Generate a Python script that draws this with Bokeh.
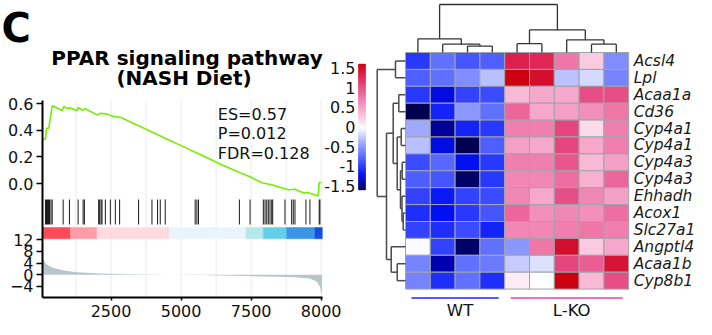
import numpy as np
from bokeh.plotting import figure
from bokeh.models import (Range1d, FixedTicker, LinearColorMapper, ColumnDataSource,
                          NumeralTickFormatter, LinearAxis)
from bokeh.transform import transform
from bokeh.core.properties import value
from bokeh.embed import file_html
from bokeh.resources import INLINE

FONT = "DejaVu Sans"

# ---------------- GSEA data ----------------
panel_letter = "C"
title_lines = ["PPAR signaling pathway", "(NASH Diet)"]
stats_text = ["ES=0.57", "P=0.012", "FDR=0.128"]

es_rank = [55, 160, 196, 278, 313, 399, 755, 812, 969, 1004, 1289, 1325, 1489, 1560,
           2001, 2119, 2333, 2593, 2831, 3483, 3960, 4434, 5000, 5680, 6392, 6631,
           7104, 7461, 7877, 8234, 8647, 8825, 9064, 9242, 9420, 9502, 9598, 9893,
           9929, 10014]
es_score = [0.332, 0.332, 0.415, 0.415, 0.465, 0.583, 0.548, 0.578, 0.560, 0.570,
            0.545, 0.570, 0.548, 0.563, 0.515, 0.527, 0.522, 0.503, 0.497, 0.433,
            0.386, 0.340, 0.284, 0.217, 0.147, 0.124, 0.080, 0.050, 0.005, -0.010,
            -0.035, -0.047, -0.043, -0.060, -0.073, -0.065, -0.073, -0.093, 0.008,
            0.008]

hit_rank = [160, 196, 231, 267, 303, 356, 399, 791, 1015, 1325, 1503, 1549, 2058,
            2094, 2144, 2179, 2297, 2475, 2653, 2806, 3483, 3960, 4160, 4256, 4434,
            5502, 5563, 5620, 7080, 7461, 7935, 7995, 8056, 8113, 8173, 8234, 8269,
            8707, 8946, 9003, 9064, 9455, 9598, 9929, 9954]

metric_rank = [55, 160, 278, 456, 812, 1289, 2119, 3305, 4494, 5680, 6866, 8055,
               9003, 9598, 9836, 9954, 10030]
metric_value = [5.7, 4.0, 3.1, 2.3, 1.5, 0.9, 0.45, 0.2, 0.0, -0.1, -0.35, -0.6,
                -0.8, -1.3, -2.3, -4.0, -6.8]

band_edges = [55, 1051, 2001, 4587, 7318, 7935, 8768, 9776, 10040]
band_colors = ["#ff4a58", "#ff9ca6", "#ffdbe0", "#eaf4fc", "#b4e8ea", "#64d0e8",
               "#3c94e8", "#1450e0"]

x_tick_pos = [2500, 5000, 7500, 10000]
x_tick_lab = ["2500", "5000", "7500", "8000"]
grid_pos = [1250, 2500, 3750, 5000, 6250, 7500, 8750, 10000]
es_ticks = [0.0, 0.2, 0.4, 0.6]
metric_ticks = [-4, 0, 4, 8, 12]

# ---------------- heatmap data ----------------
genes = ["Acsl4", "Lpl", "Acaa1a", "Cd36", "Cyp4a1", "Cyp4a1", "Cyp4a3", "Cyp4a3",
         "Ehhadh", "Acox1", "Slc27a1", "Angptl4", "Acaa1b", "Cyp8b1"]
samples = ["WT1", "WT2", "WT3", "WT4", "KO1", "KO2", "KO3", "KO4", "KO5"]
groups = ["WT", "L-KO"]
group_sizes = [4, 5]
group_colors = ["#5b5bea", "#f06ec4"]

z_WT1 = [-1.0, -0.8, -1.0, -1.6, -0.4, -0.3, -0.9, -0.8, -0.95, -1.05, -0.95, -0.02, -0.6, -0.6]
z_WT2 = [-0.7, -0.7, -1.25, -1.1, -1.45, -1.25, -0.75, -0.85, -1.15, -1.2, -1.05, -0.95, -1.4, -1.05]
z_WT3 = [-0.85, -0.55, -0.95, -0.5, -1.1, -1.6, -1.2, -1.55, -0.95, -1.0, -0.9, -1.55, -0.7, -0.7]
z_WT4 = [-0.8, -0.3, -0.9, -0.7, -1.0, -0.8, -1.0, -1.0, -0.9, -0.85, -1.1, -0.7, -0.65, -1.05]
z_KO1 = [1.3, 1.6, 0.35, 0.85, 0.7, 0.5, 0.7, 0.65, 0.65, 0.85, 0.65, -0.5, -0.25, 0.08]
z_KO2 = [1.25, 1.45, 0.45, 0.45, 0.7, 0.45, 0.7, 0.65, 0.45, 0.6, 0.65, 0.75, -0.15, 0.0]
z_KO3 = [0.75, -0.28, 0.45, 0.5, 1.05, 1.05, 0.95, 0.8, 1.0, 0.65, 0.7, 1.45, 1.05, 1.6]
z_KO4 = [0.25, -0.18, 1.0, 0.6, 0.15, 0.45, 0.35, 0.4, 0.65, 0.6, 0.75, 0.25, 0.9, 0.35]
z_KO5 = [-0.55, -0.6, 1.0, 0.75, 0.7, 0.7, 0.5, 0.85, 0.5, 0.8, 0.7, 0.45, 1.4, 1.0]
z_columns = [z_WT1, z_WT2, z_WT3, z_WT4, z_KO1, z_KO2, z_KO3, z_KO4, z_KO5]

# dendrograms: (child a, child b, height); leaves 0..n-1, new nodes n, n+1, ...
col_merges = [(2, 3, 6.7), (1, 9, 8.7), (0, 10, 14.3), (4, 5, 9.3), (7, 8, 8.7),
              (6, 13, 13.3), (12, 14, 23.7), (11, 15, 50.3)]
row_merges = [(0, 1, 10.0), (2, 3, 6.7), (4, 5, 4.3), (6, 7, 3.3), (9, 10, 2.3),
              (8, 18, 3.5), (17, 19, 5.0), (16, 20, 8.3), (15, 21, 12.3),
              (12, 13, 8.3), (11, 23, 14.3), (22, 24, 19.0), (14, 25, 28.3)]

cbar_low, cbar_high = -1.6, 1.6
cbar_ticks = [1.5, 1, 0.5, 0, -0.5, -1, -1.5]
cbar_labels = ["1.5", "1", "0.5", "0", "-0.5", "-1", "-1.5"]

# ---------------- layout (canvas pixels) ----------------
FIG_W, FIG_H = 696, 319
FRAME_L, FRAME_R = 42, 322            # GSEA plot area
ES_TOP_PX, SPLIT_PX, PLOT_BOT_PX = 100, 225, 297
ES0_PX, ES_PX_PER = 183.0, 133.3
M0_PX, M_PX_PER = 274.3, 2.917
HIT_TOP_PX, HIT_BOT_PX = 199, 224
BAND_TOP_PX, BAND_BOT_PX = 227, 238.3
CB_L, CB_R, CB_T, CB_B = 358, 365, 64, 189
HM_L, COL_PX = 405.0, 24.8
HM_TOP, ROW_PX = 52.0, 16.9
DEND_TOP = 4.0
GROUP_LINE_PX, GROUP_TEXT_PX = 297.5, 309.5


def lin(p1, v1, p2, v2):
    return lambda q: v1 + (q - p1) * (v2 - v1) / (p2 - p1)


def xrange_from(f):
    return Range1d(f(0), f(FIG_W))


def yrange_from(f):
    return Range1d(f(FIG_H), f(0))


n_rows, n_cols = len(genes), len(samples)
f_col = lin(HM_L, 0, HM_L + n_cols * COL_PX, n_cols)
f_row = lin(HM_TOP, 0, HM_TOP + n_rows * ROW_PX, n_rows)
f_rank = lin(40.5, 0, 320.7, 10000)
f_es = lin(ES0_PX, 0.0, ES0_PX - ES_PX_PER, 1.0)
f_met = lin(M0_PX, 0.0, M0_PX - M_PX_PER, 1.0)
f_cb = lin(CB_B, cbar_low, CB_T, cbar_high)
f_cbx = lin(CB_L, 0.0, CB_R, 1.0)
f_px = lin(0, 0, 1, 1)

p = figure(width=FIG_W, height=FIG_H, output_backend="svg",
           toolbar_location=None, x_range=xrange_from(f_col), y_range=yrange_from(f_row),
           x_axis_type=None, y_axis_type=None, min_border=0)
p.outline_line_color = None
p.background_fill_color = "white"
p.border_fill_color = "white"
p.extra_x_ranges = {"rank": xrange_from(f_rank), "cbx": xrange_from(f_cbx), "px": xrange_from(f_px)}
p.extra_y_ranges = {"es": yrange_from(f_es), "met": yrange_from(f_met), "cb": yrange_from(f_cb),
                    "py": yrange_from(f_px)}


def style_axis(ax, size="16px"):
    ax.axis_line_width = 2
    ax.axis_line_color = "black"
    ax.major_tick_line_width = 1.5
    ax.major_tick_out = 6
    ax.major_tick_in = 0
    ax.minor_tick_out = 0
    ax.minor_tick_in = 0
    ax.major_label_text_font = FONT
    ax.major_label_text_font_size = size
    ax.major_label_text_color = "#111111"
    ax.major_label_standoff = 3


# ---------------- titles (positions are text centres) ----------------
p.text(x=[1], y=[27], text=[panel_letter], text_font=value(FONT), text_font_size="40px",
       text_font_style="bold", text_align="left", text_baseline="middle",
       text_color="black", x_range_name="px", y_range_name="py")
p.text(x=[186.5, 183.5], y=[57.0, 77.0], text=title_lines, text_font=value(FONT),
       text_font_size="20px", text_font_style="bold", text_align="center",
       text_baseline="middle", text_color="black", x_range_name="px", y_range_name="py")

# ---------------- GSEA panels ----------------
p.segment(x0=grid_pos, x1=grid_pos, y0=[ES_TOP_PX] * len(grid_pos),
          y1=[PLOT_BOT_PX] * len(grid_pos), line_color="#ebebeb", line_width=1,
          x_range_name="rank", y_range_name="py")
p.varea(x=metric_rank, y1=[0] * len(metric_rank), y2=metric_value, fill_color="#b6c6c9",
        x_range_name="rank", y_range_name="met")
p.quad(left=band_edges[:-1], right=band_edges[1:],
       bottom=[f_met(BAND_BOT_PX)] * len(band_colors), top=[f_met(BAND_TOP_PX)] * len(band_colors),
       fill_color=band_colors, line_color=band_colors, line_width=0.5,
       x_range_name="rank", y_range_name="met")
p.segment(x0=hit_rank, x1=hit_rank, y0=[f_es(HIT_TOP_PX)] * len(hit_rank),
          y1=[f_es(HIT_BOT_PX)] * len(hit_rank), line_color="#1a1a1a", line_width=1,
          x_range_name="rank", y_range_name="es")
p.line(es_rank, es_score, line_color="#76ee00", line_width=1.6,
       x_range_name="rank", y_range_name="es")
p.text(x=[217.3] * 3, y=[113.5, 132.8, 152.5], text=stats_text, text_font=value(FONT),
       text_font_size="16px", text_align="left", text_baseline="middle",
       text_color="#111111", x_range_name="px", y_range_name="py")

ax_es = LinearAxis(x_range_name="rank", y_range_name="es", fixed_location=f_rank(FRAME_L),
                   bounds=(f_es(PLOT_BOT_PX), f_es(ES_TOP_PX)),
                   ticker=FixedTicker(ticks=es_ticks), formatter=NumeralTickFormatter(format="0.0"))
style_axis(ax_es)
p.add_layout(ax_es, "left")

ax_met = LinearAxis(x_range_name="rank", y_range_name="met", fixed_location=f_rank(FRAME_L),
                    bounds=(f_met(PLOT_BOT_PX), f_met(SPLIT_PX)),
                    ticker=FixedTicker(ticks=metric_ticks))
style_axis(ax_met)
ax_met.axis_line_color = None
p.add_layout(ax_met, "left")

ax_rank = LinearAxis(x_range_name="rank", y_range_name="met", fixed_location=f_met(PLOT_BOT_PX),
                     bounds=(f_rank(FRAME_L), f_rank(FRAME_R)),
                     ticker=FixedTicker(ticks=x_tick_pos))
style_axis(ax_rank)
ax_rank.major_tick_out = 3
ax_rank.major_label_standoff = 4
ax_rank.major_label_overrides = {t: l for t, l in zip(x_tick_pos, x_tick_lab)}
p.add_layout(ax_rank, "below")

# ---------------- colour map ----------------
cmap_stops = [(-1.6, "#000050"), (-1.4, "#0000b0"), (-1.2, "#0010f0"), (-1.0, "#2838ff"),
              (-0.7, "#6070ff"), (-0.4, "#a0a8ff"), (-0.15, "#dce0ff"), (0.0, "#ffffff"),
              (0.15, "#fbdcea"), (0.4, "#f6b2d2"), (0.7, "#f080b0"), (1.0, "#e85088"),
              (1.3, "#de2050"), (1.6, "#cc0010")]


def make_palette(stops, n=256):
    vs = [s[0] for s in stops]
    cs = [tuple(int(s[1][i:i + 2], 16) for i in (1, 3, 5)) for s in stops]
    out = []
    for t in np.linspace(vs[0], vs[-1], n):
        j = max(0, min(len(vs) - 2, int(np.searchsorted(vs, t) - 1)))
        f = min(1.0, max(0.0, (t - vs[j]) / (vs[j + 1] - vs[j])))
        c = [round(cs[j][k] + (cs[j + 1][k] - cs[j][k]) * f) for k in range(3)]
        out.append("#%02x%02x%02x" % tuple(c))
    return out


mapper = LinearColorMapper(palette=make_palette(cmap_stops), low=cbar_low, high=cbar_high)

# ---------------- colour bar ----------------
cb_vals = np.linspace(cbar_low, cbar_high, 161)
cb_step = cb_vals[1] - cb_vals[0]
cb_src = ColumnDataSource(dict(v=cb_vals, b=cb_vals - cb_step / 2, t=cb_vals + cb_step / 2))
p.quad(left=0, right=1, bottom="b", top="t", source=cb_src,
       fill_color=transform("v", mapper), line_color=transform("v", mapper), line_width=0.5,
       x_range_name="cbx", y_range_name="cb")
ax_cb = LinearAxis(x_range_name="cbx", y_range_name="cb", fixed_location=0.0,
                   bounds=(cbar_low, cbar_high), ticker=FixedTicker(ticks=cbar_ticks))
style_axis(ax_cb)
ax_cb.axis_line_color = None
ax_cb.major_tick_out = 0
ax_cb.major_label_standoff = 3
ax_cb.major_label_overrides = {t: l for t, l in zip(cbar_ticks, cbar_labels)}
p.add_layout(ax_cb, "left")

# ---------------- heatmap ----------------
xs, ys, vs = [], [], []
for ci, colvals in enumerate(z_columns):
    for ri, v in enumerate(colvals):
        xs.append(ci + 0.5)
        ys.append(ri + 0.5)
        vs.append(v)
hm_src = ColumnDataSource(dict(x=xs, y=ys, v=vs))
p.rect(x="x", y="y", width=1, height=1, fill_color=transform("v", mapper),
       line_color="#a0a4aa", line_width=1, source=hm_src)


def dendro_segments(merges, n):
    pos = {i: i + 0.5 for i in range(n)}
    hgt = {i: 0.0 for i in range(n)}
    segs = []
    for k, (a, b, h) in enumerate(merges):
        segs.append((pos[a], hgt[a], pos[a], h))
        segs.append((pos[b], hgt[b], pos[b], h))
        segs.append((pos[a], h, pos[b], h))
        pos[n + k] = (pos[a] + pos[b]) / 2
        hgt[n + k] = h
    return segs


col_scale = (HM_TOP - DEND_TOP) / max(m[2] for m in col_merges) / ROW_PX
cs = dendro_segments(col_merges, n_cols)
p.segment(x0=[s[0] for s in cs], y0=[-s[1] * col_scale for s in cs],
          x1=[s[2] for s in cs], y1=[-s[3] * col_scale for s in cs],
          line_color="#333333", line_width=1.3)
row_scale = 1.0 / COL_PX
rs = dendro_segments(row_merges, n_rows)
p.segment(y0=[s[0] for s in rs], x0=[-s[1] * row_scale for s in rs],
          y1=[s[2] for s in rs], x1=[-s[3] * row_scale for s in rs],
          line_color="#4a4a4a", line_width=1.5)

p.text(x=[n_cols] * n_rows, y=[r + 0.5 for r in range(n_rows)], text=genes, x_offset=5,
       text_font=value(FONT), text_font_size="15.5px", text_font_style="italic",
       text_align="left", text_baseline="middle", text_color="#1a1a1a")

starts = [int(v) for v in np.cumsum([0] + group_sizes[:-1])]
ends = [int(v) for v in np.cumsum(group_sizes)]
p.segment(x0=[s + 0.24 for s in starts], x1=[e - 0.24 for e in ends],
          y0=[f_row(GROUP_LINE_PX)] * len(groups), y1=[f_row(GROUP_LINE_PX)] * len(groups),
          line_color=group_colors, line_width=2)
p.text(x=[(s + e) / 2 + 0.2 for s, e in zip(starts, ends)],
       y=[f_row(GROUP_TEXT_PX)] * len(groups), text=groups, text_font=value(FONT),
       text_font_size="16.5px", text_align="center", text_baseline="middle",
       text_color="#111111")

open("out.html", "w").write(file_html(p, INLINE))
